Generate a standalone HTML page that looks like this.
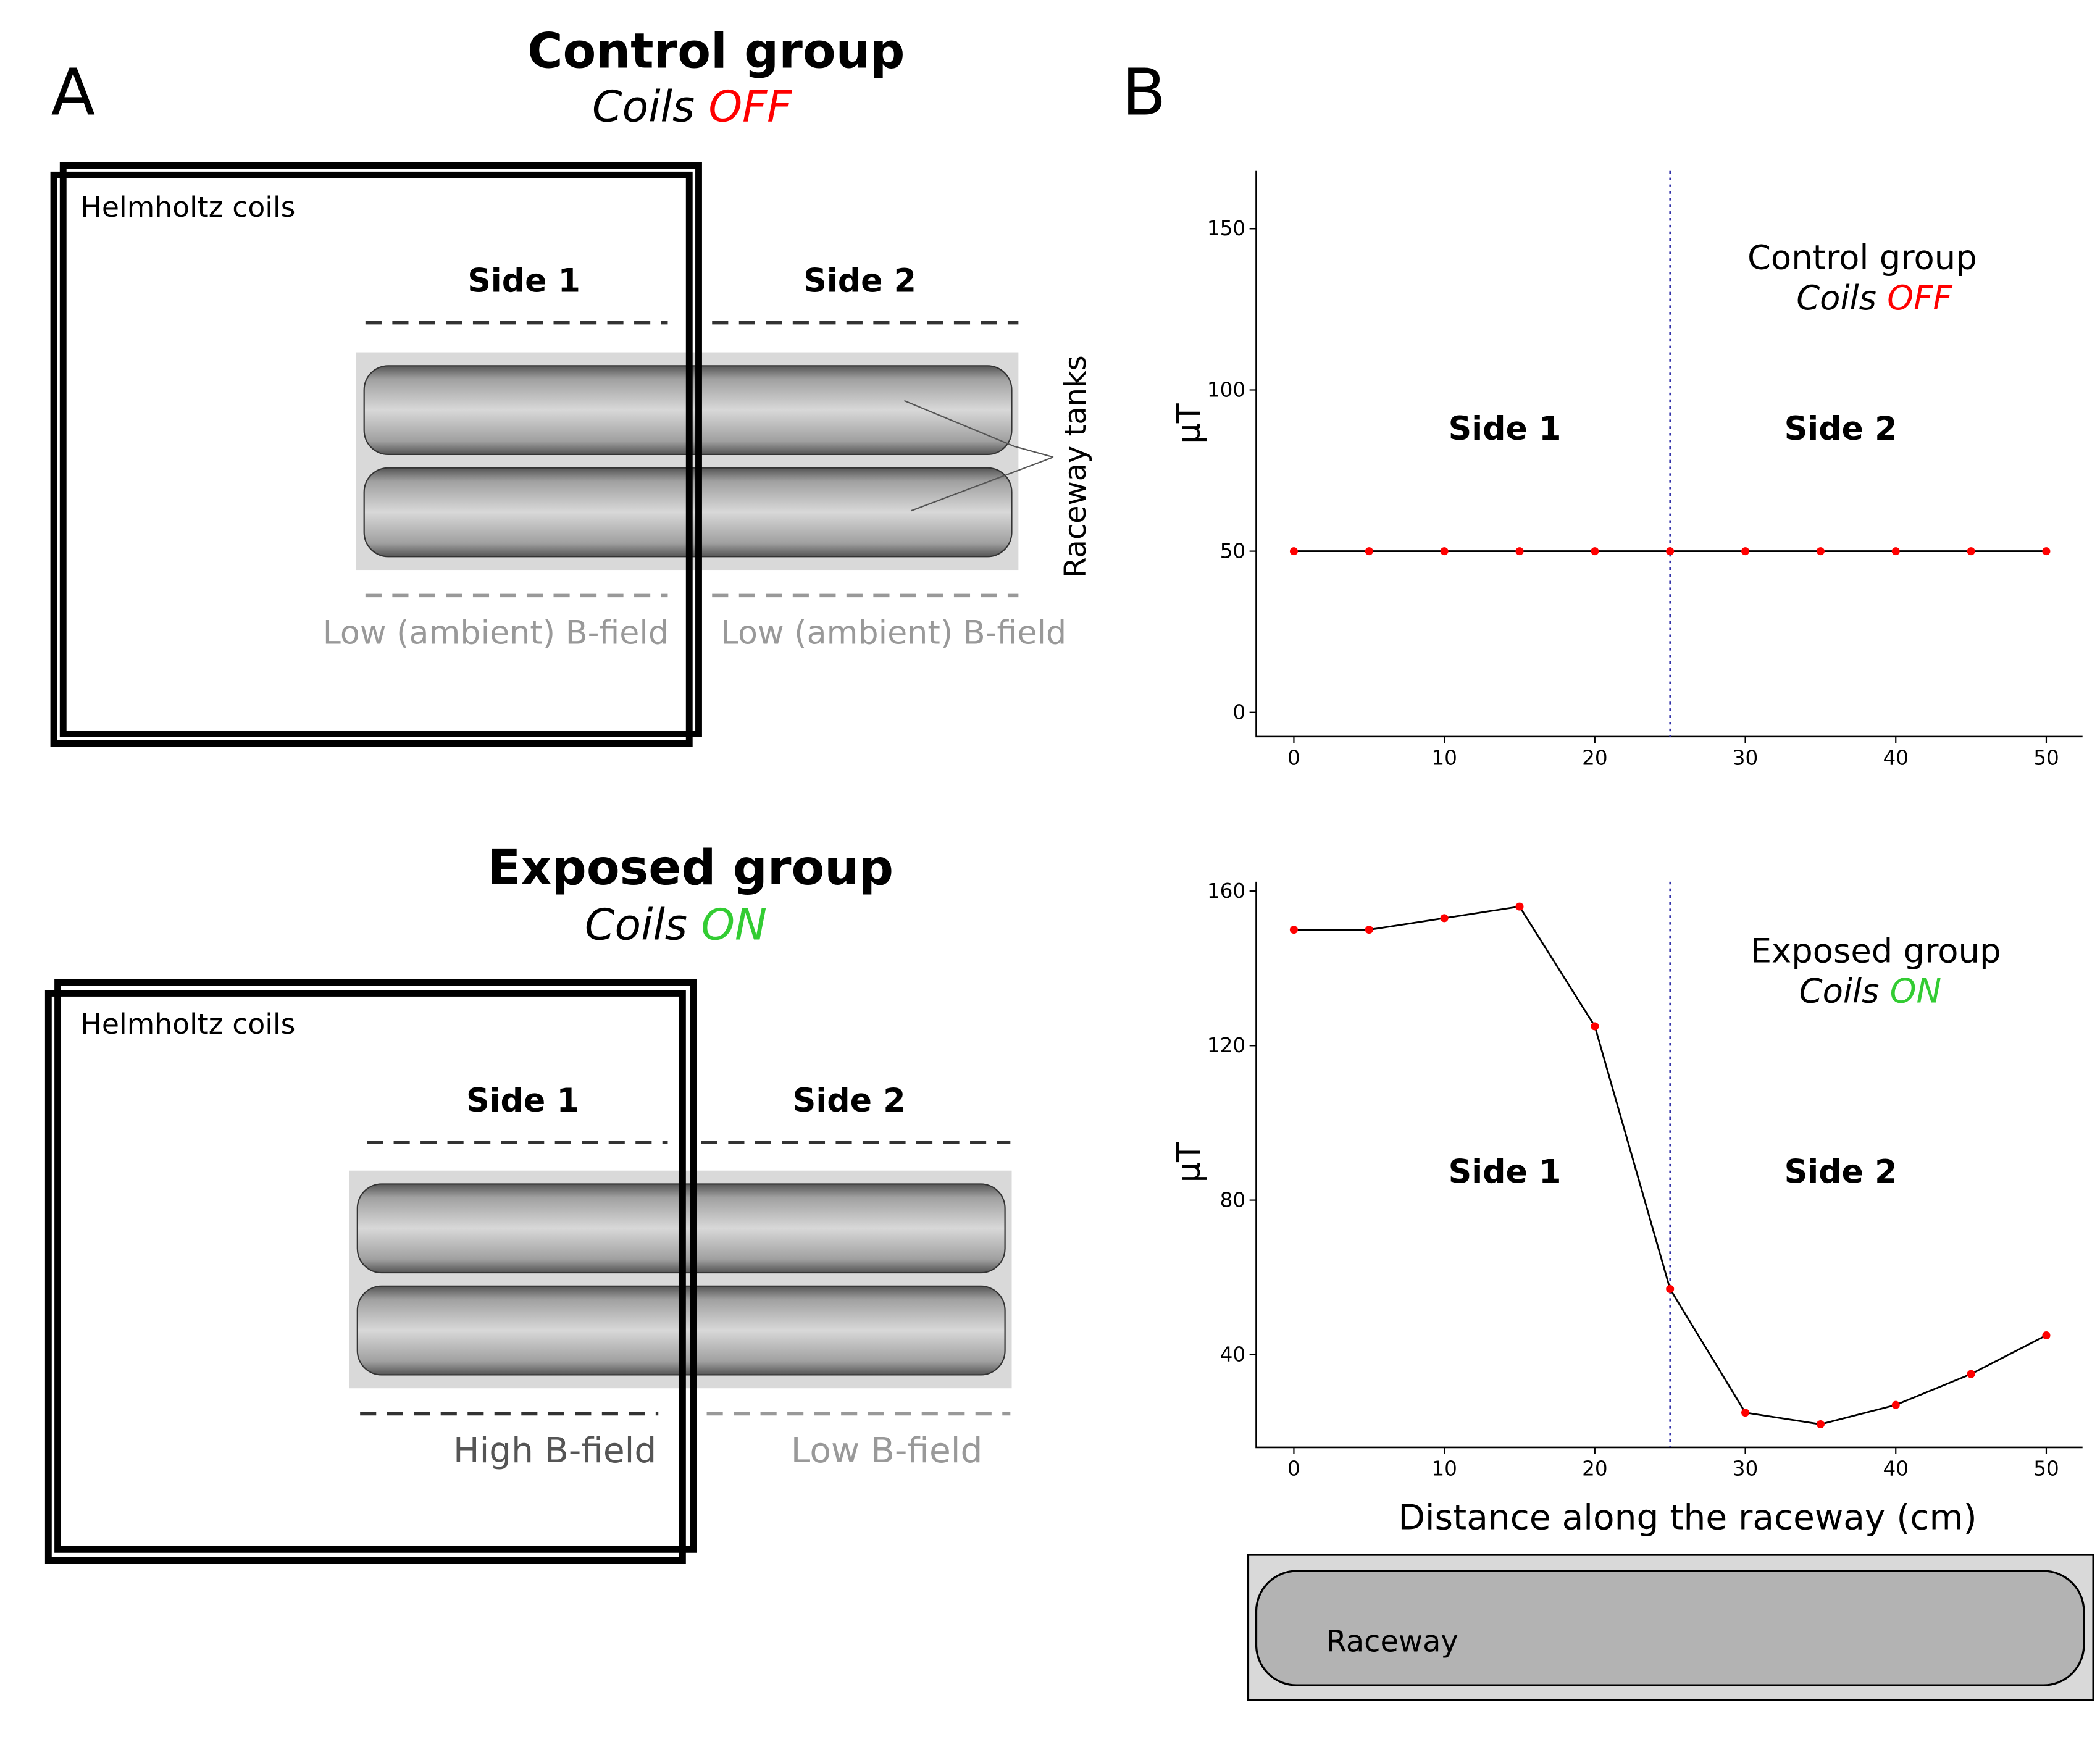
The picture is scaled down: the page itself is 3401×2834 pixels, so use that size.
<!DOCTYPE html>
<html><head><meta charset="utf-8"><style>
html,body{margin:0;padding:0;background:#fff;}
svg{display:block;}
text{font-family:"DejaVu Sans","Liberation Sans",sans-serif;}
</style></head><body>
<svg width="3401" height="2834" viewBox="0 0 1563 1302" xmlns="http://www.w3.org/2000/svg">
<defs>
<linearGradient id="tank" x1="0" y1="0" x2="0" y2="1">
<stop offset="0" stop-color="#555"/><stop offset="0.15" stop-color="#a0a0a0"/><stop offset="0.5" stop-color="#d8d8d8"/><stop offset="0.85" stop-color="#a0a0a0"/><stop offset="1" stop-color="#555"/>
</linearGradient>
</defs>
<rect width="1563" height="1302" fill="#fff"/>
<!-- Panel A top -->
<text x="38" y="85" font-size="48">A</text>
<text x="533" y="50" font-size="36" font-weight="bold" text-anchor="middle">Control group</text>
<text x="515" y="90" font-size="32" font-style="italic" text-anchor="middle">Coils <tspan fill="#ff0000">OFF</tspan></text>
<rect x="265" y="262" width="493" height="162" fill="#d9d9d9"/>
<rect x="271" y="272" width="482" height="66" rx="18" fill="url(#tank)" stroke="#333" stroke-width="1"/>
<rect x="271" y="348" width="482" height="66" rx="18" fill="url(#tank)" stroke="#333" stroke-width="1"/>
<g fill="none" stroke="#000" stroke-width="5">
<rect x="40" y="130" width="473" height="423"/>
<rect x="47" y="123" width="473" height="423"/>
</g>
<text x="60" y="161" font-size="21">Helmholtz coils</text>
<text x="390" y="217" font-size="24" font-weight="bold" text-anchor="middle">Side 1</text>
<text x="640" y="217" font-size="24" font-weight="bold" text-anchor="middle">Side 2</text>
<g stroke-width="2.5" stroke-dasharray="12,8">
<line x1="272" y1="240" x2="497" y2="240" stroke="#333"/>
<line x1="530" y1="240" x2="758" y2="240" stroke="#333"/>
<line x1="272" y1="443" x2="497" y2="443" stroke="#999"/>
<line x1="530" y1="443" x2="758" y2="443" stroke="#999"/>
</g>
<text x="369" y="479" font-size="24" fill="#999" text-anchor="middle">Low (ambient) B-field</text>
<text x="665" y="479" font-size="24" fill="#999" text-anchor="middle">Low (ambient) B-field</text>
<text transform="translate(808,347) rotate(-90)" font-size="22" text-anchor="middle">Raceway tanks</text>
<g stroke="#555" stroke-width="1"><line x1="673" y1="298" x2="755" y2="332"/><line x1="678" y1="380" x2="784" y2="340"/><line x1="755" y1="332" x2="784" y2="340"/></g>
<!-- Panel A bottom -->
<text x="514" y="658" font-size="36" font-weight="bold" text-anchor="middle">Exposed group</text>
<text x="503" y="699" font-size="32" font-style="italic" text-anchor="middle">Coils <tspan fill="#33cc33">ON</tspan></text>
<rect x="260" y="871" width="493" height="162" fill="#d9d9d9"/>
<rect x="266" y="881" width="482" height="66" rx="18" fill="url(#tank)" stroke="#333" stroke-width="1"/>
<rect x="266" y="957" width="482" height="66" rx="18" fill="url(#tank)" stroke="#333" stroke-width="1"/>
<g fill="none" stroke="#000" stroke-width="5">
<rect x="36" y="739" width="472" height="422"/>
<rect x="43" y="731" width="473" height="422"/>
</g>
<text x="60" y="769" font-size="21">Helmholtz coils</text>
<text x="389" y="827" font-size="24" font-weight="bold" text-anchor="middle">Side 1</text>
<text x="632" y="827" font-size="24" font-weight="bold" text-anchor="middle">Side 2</text>
<g stroke-width="2.5" stroke-dasharray="12,8">
<line x1="273" y1="850" x2="497" y2="850" stroke="#333"/>
<line x1="522" y1="850" x2="752" y2="850" stroke="#333"/>
<line x1="268" y1="1052" x2="490" y2="1052" stroke="#333"/>
<line x1="526" y1="1052" x2="752" y2="1052" stroke="#999"/>
</g>
<text x="413" y="1088" font-size="26" fill="#555" text-anchor="middle">High B-field</text>
<text x="660" y="1088" font-size="26" fill="#999" text-anchor="middle">Low B-field</text>
<!-- Panel B -->
<text x="835" y="85" font-size="48">B</text>
<g stroke="#000" stroke-width="1.2" fill="none">
<polyline points="935,127 935,548 1550,548"/>
<polyline points="935,656 935,1077 1550,1077"/>
</g>
<g stroke="#000" stroke-width="1">
<line x1="930" y1="530" x2="935" y2="530"/><line x1="930" y1="410" x2="935" y2="410"/><line x1="930" y1="290" x2="935" y2="290"/><line x1="930" y1="170" x2="935" y2="170"/>
<line x1="930" y1="663" x2="935" y2="663"/><line x1="930" y1="778" x2="935" y2="778"/><line x1="930" y1="893" x2="935" y2="893"/><line x1="930" y1="1008" x2="935" y2="1008"/>
</g>
<g font-size="15" text-anchor="end" font-family="Liberation Sans,sans-serif">
<text x="927" y="535">0</text><text x="927" y="415">50</text><text x="927" y="295">100</text><text x="927" y="175">150</text>
<text x="927" y="668">160</text><text x="927" y="783">120</text><text x="927" y="898">80</text><text x="927" y="1013">40</text>
</g>
<g font-size="15" text-anchor="middle">
<text x="963" y="569">0</text><text x="1075" y="569">10</text><text x="1187" y="569">20</text><text x="1299" y="569">30</text><text x="1411" y="569">40</text><text x="1523" y="569">50</text>
<text x="963" y="1098">0</text><text x="1075" y="1098">10</text><text x="1187" y="1098">20</text><text x="1299" y="1098">30</text><text x="1411" y="1098">40</text><text x="1523" y="1098">50</text>
</g>
<g stroke="#000" stroke-width="1">
<line x1="963" y1="548" x2="963" y2="553"/><line x1="1075" y1="548" x2="1075" y2="553"/><line x1="1187" y1="548" x2="1187" y2="553"/><line x1="1299" y1="548" x2="1299" y2="553"/><line x1="1411" y1="548" x2="1411" y2="553"/><line x1="1523" y1="548" x2="1523" y2="553"/>
<line x1="963" y1="1077" x2="963" y2="1082"/><line x1="1075" y1="1077" x2="1075" y2="1082"/><line x1="1187" y1="1077" x2="1187" y2="1082"/><line x1="1299" y1="1077" x2="1299" y2="1082"/><line x1="1411" y1="1077" x2="1411" y2="1082"/><line x1="1523" y1="1077" x2="1523" y2="1082"/>
</g>
<line x1="1243" y1="127" x2="1243" y2="548" stroke="#3333aa" stroke-width="1.2" stroke-dasharray="2,3"/>
<line x1="1243" y1="656" x2="1243" y2="1077" stroke="#3333aa" stroke-width="1.2" stroke-dasharray="2,3"/>
<text transform="translate(893,315) rotate(-90)" font-size="24" text-anchor="middle">µT</text>
<text transform="translate(893,865) rotate(-90)" font-size="24" text-anchor="middle">µT</text>
<text x="1386" y="200" font-size="25" text-anchor="middle">Control group</text>
<text x="1395" y="230" font-size="25" font-style="italic" text-anchor="middle">Coils <tspan fill="#ff0000">OFF</tspan></text>
<text x="1396" y="716" font-size="25" text-anchor="middle">Exposed group</text>
<text x="1392" y="746" font-size="25" font-style="italic" text-anchor="middle">Coils <tspan fill="#33cc33">ON</tspan></text>
<g font-size="24" font-weight="bold" text-anchor="middle">
<text x="1120" y="327">Side 1</text><text x="1370" y="327">Side 2</text>
<text x="1120" y="880">Side 1</text><text x="1370" y="880">Side 2</text>
</g>
<line x1="963" y1="410" x2="1523" y2="410" stroke="#000" stroke-width="1.3"/>
<g fill="#ff0000">
<circle cx="963" cy="410" r="3"/><circle cx="1019" cy="410" r="3"/><circle cx="1075" cy="410" r="3"/><circle cx="1131" cy="410" r="3"/><circle cx="1187" cy="410" r="3"/><circle cx="1243" cy="410" r="3"/><circle cx="1299" cy="410" r="3"/><circle cx="1355" cy="410" r="3"/><circle cx="1411" cy="410" r="3"/><circle cx="1467" cy="410" r="3"/><circle cx="1523" cy="410" r="3"/>
</g>
<polyline fill="none" stroke="#000" stroke-width="1.3" points="963,691.75 1019,691.75 1075,683.1 1131,674.5 1187,763.6 1243,959.1 1299,1051.1 1355,1059.8 1411,1045.4 1467,1022.4 1523,993.6"/>
<g fill="#ff0000">
<circle cx="963" cy="691.75" r="3"/><circle cx="1019" cy="691.75" r="3"/><circle cx="1075" cy="683.1" r="3"/><circle cx="1131" cy="674.5" r="3"/><circle cx="1187" cy="763.6" r="3"/><circle cx="1243" cy="959.1" r="3"/><circle cx="1299" cy="1051.1" r="3"/><circle cx="1355" cy="1059.8" r="3"/><circle cx="1411" cy="1045.4" r="3"/><circle cx="1467" cy="1022.4" r="3"/><circle cx="1523" cy="993.6" r="3"/>
</g>
<text x="1256" y="1138" font-size="26" text-anchor="middle">Distance along the raceway (cm)</text>
<rect x="929" y="1157" width="629" height="108" fill="#d9d9d9" stroke="#000" stroke-width="1.5"/>
<rect x="935" y="1169" width="616" height="85" rx="30" fill="#b3b3b3" stroke="#000" stroke-width="1.5"/>
<text x="987" y="1229" font-size="22">Raceway</text>
</svg>
</body></html>
